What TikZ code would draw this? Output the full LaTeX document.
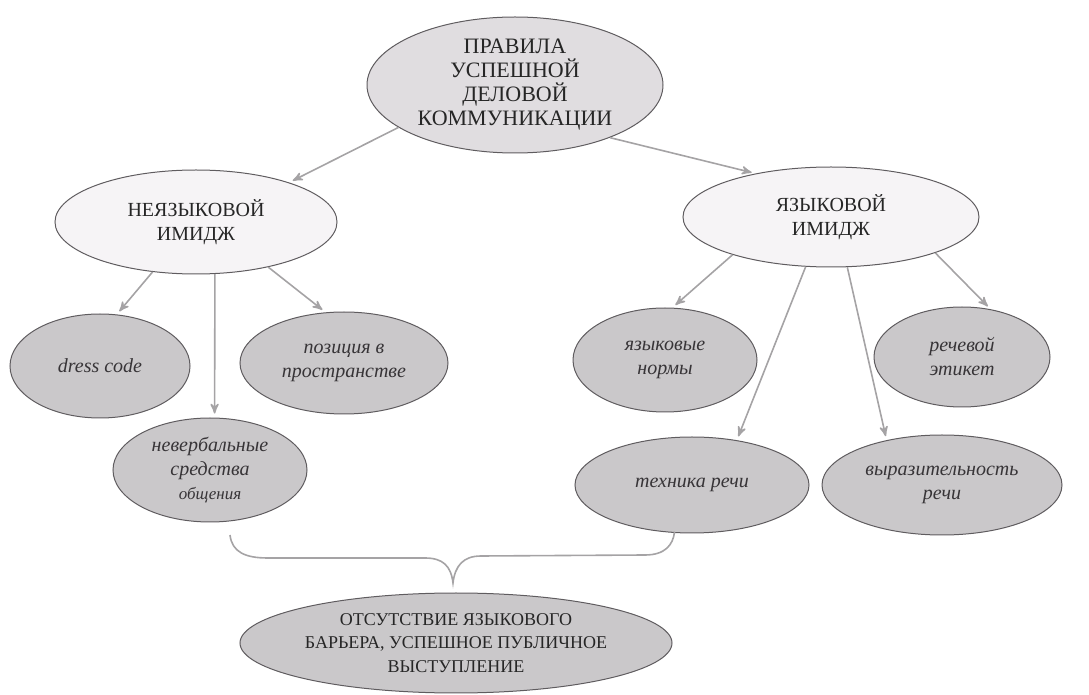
\documentclass[tikz,border=0pt]{standalone}
\usepackage{fontspec}
\setmainfont{Liberation Serif}
\usetikzlibrary{arrows}
\usetikzlibrary{shapes.geometric}
\usetikzlibrary{positioning}
\definecolor{topfill}{RGB}{224,221,224}
\definecolor{midfill}{RGB}{246,244,246}
\definecolor{leaffill}{RGB}{202,200,202}
\definecolor{edgegray}{RGB}{95,92,95}
\definecolor{arrowgray}{RGB}{165,163,165}
\definecolor{textgray}{RGB}{55,52,55}

\begin{document}
\begin{tikzpicture}[x=0.5pt,y=-0.5pt,>=stealth',shorten >=2pt,auto,
    oval node/.style={ellipse,draw=edgegray,line width=0.5pt,inner sep=0pt,align=center,text=black!85,font=\fontsize{10}{12}\selectfont},
    main node/.style={oval node,fill=topfill,font=\fontsize{11}{12}\selectfont},
    mid node/.style={oval node,fill=midfill},
    leaf node/.style={oval node,fill=leaffill,text=textgray,font=\fontsize{10}{12}\selectfont\itshape},
    link/.style={->,color=arrowgray,line width=0.8pt}]
  \useasboundingbox (0,0) rectangle (1089,695);
  \begin{scope}
    \node[main node,minimum width=148pt,minimum height=68pt] (rules) at (515,85) {ПРАВИЛА\\УСПЕШНОЙ\\ДЕЛОВОЙ\\КОММУНИКАЦИИ};
    \node[mid node,minimum width=141pt,minimum height=52pt] (nonverbal) at (196,222) {НЕЯЗЫКОВОЙ\\ИМИДЖ};
    \node[mid node,minimum width=148pt,minimum height=50pt] (verbal) at (831,217) {ЯЗЫКОВОЙ\\ИМИДЖ};
    % left branch
    \node[leaf node,minimum width=90pt,minimum height=52pt] (dress) at (100,366) {dress code};
    \node[leaf node,minimum width=104pt,minimum height=51pt] (space) at (344,363) {позиция в\\пространстве};
    \node[leaf node,minimum width=97pt,minimum height=52pt] (means) at (210,470) {невербальные\\средства\\{\fontsize{8.5}{10}\selectfont общения}};
    % right branch
    \node[leaf node,minimum width=92pt,minimum height=52pt] (norms) at (665,360) {языковые\\нормы};
    \node[leaf node,minimum width=88pt,minimum height=50pt] (etiquette) at (962,357) {речевой\\этикет};
    \node[leaf node,minimum width=117pt,minimum height=48pt] (technique) at (692,485) {техника речи};
    \node[leaf node,minimum width=120pt,minimum height=50pt] (express) at (942,485) {выразительность\\речи};
    \node[leaf node,font=\fontsize{9}{11.75}\selectfont,text=black!85,minimum width=216pt,minimum height=50pt] (result) at (456,643) {ОТСУТСТВИЕ ЯЗЫКОВОГО\\БАРЬЕРА, УСПЕШНОЕ ПУБЛИЧНОЕ\\ВЫСТУПЛЕНИЕ};
    \path[link] (rules.200) edge (nonverbal.23);
    \path[link] (rules.331) edge (verbal.150);
    \path[link] (nonverbal.229) edge (dress.72);
    \path[link] (nonverbal.290) edge (means.85);
    \path[link] (nonverbal.328) edge (space.110);
    \path[link] (verbal.201) edge (norms.82);
    \path[link] (verbal.243) edge (technique.45);
    \path[link] (verbal.288) edge (express.141);
    \path[link] (verbal.341) edge (etiquette.59);
    % brace over the leaves
    \draw[draw=arrowgray,line width=0.8pt] (230,535) .. controls (232,552) and (245,558) .. (268,558) -- (425,558)
      .. controls (443,558) and (451,566) .. (453,583) .. controls (455,566) and (463,556) .. (481,556) -- (645,555)
      .. controls (665,555) and (673,545) .. (675,528);
  \end{scope}
\end{tikzpicture}
\end{document}
